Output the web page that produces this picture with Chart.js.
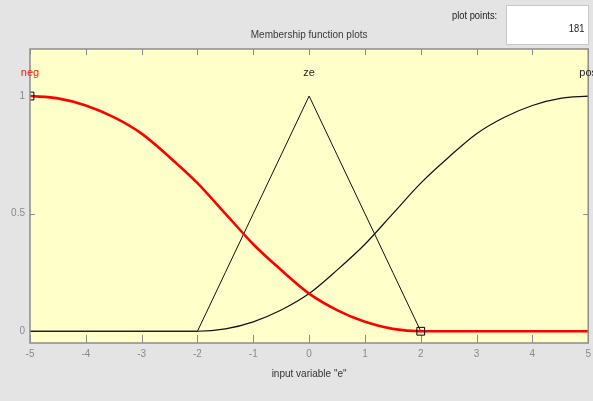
<!DOCTYPE html>
<html>
<head>
<meta charset="utf-8">
<script src="https://cdn.jsdelivr.net/npm/chart.js@4"></script>
<style>
  html, body { margin: 0; padding: 0; background: #e4e4e4; overflow: hidden; }
  #wrap { position: relative; width: 593px; height: 401px; overflow: hidden; }
  #mf { position: absolute; left: 0; top: 0; }
  .ui { position: absolute; font-family: "Liberation Sans", Arial, sans-serif; font-size: 11px; line-height: 12px; color: #222; }
  #ppLabel { right: 96px; top: 9px; transform: scaleX(0.85); transform-origin: right center; }
  #ppBox { left: 506px; top: 5px; width: 83px; height: 40px; background: #fff; border: 1px solid #c8c8c8; box-sizing: border-box; }
  #ppBox span { position: absolute; right: 4px; top: 16px; transform: scaleX(0.85); transform-origin: right center; }
</style>
</head>
<body>
<div id="wrap">
  <canvas id="mf" width="596" height="401"></canvas>
  <div class="ui" id="ppLabel">plot points:</div>
  <div class="ui" id="ppBox"><span>181</span></div>
</div>
<script>
const FONT = '"Liberation Sans", Arial, sans-serif';

// input variable "e", sampled every 0.5
const xs = [-5, -4.5, -4, -3.5, -3, -2.5, -2, -1.5, -1, -0.5, 0, 0.5, 1, 1.5, 2, 2.5, 3, 3.5, 4, 4.5, 5];
const negVals = [1, 0.99, 0.96, 0.91, 0.84, 0.74, 0.63, 0.5, 0.37, 0.26, 0.16, 0.09, 0.04, 0.01, 0, 0, 0, 0, 0, 0, 0];
const zeVals = [0, 0, 0, 0, 0, 0, 0, 0.25, 0.5, 0.75, 1, 0.75, 0.5, 0.25, 0, 0, 0, 0, 0, 0, 0];
const posVals = [0, 0, 0, 0, 0, 0, 0, 0.01, 0.04, 0.09, 0.16, 0.26, 0.37, 0.5, 0.63, 0.74, 0.84, 0.91, 0.96, 0.99, 1];

const mfNames = ["neg", "ze", "pos"];
const mfPeaks = [-5, 0, 5];
const selected = 0;

// drag handles of the selected curve
const handleX = [-5, 2];
const handleY = [1, 0];

const xTicks = [-5, -4, -3, -2, -1, 0, 1, 2, 3, 4, 5];
const yTicks = [0, 0.5, 1];

const toPoints = vals => xs.map((x, i) => ({ x: x, y: vals[i] }));

// yellow plot background, inward ticks, box frame
const axesBox = {
  id: "axesBox",
  beforeDatasetsDraw(chart) {
    const { ctx, chartArea: a } = chart;
    ctx.save();
    ctx.fillStyle = "#ffffca";
    ctx.fillRect(a.left, a.top, a.right - a.left, a.bottom - a.top);
    ctx.strokeStyle = "#8c8c8c";
    ctx.lineWidth = 1;
    ctx.beginPath();
    xTicks.forEach(v => {
      const px = Math.round(chart.scales.x.getPixelForValue(v)) + 0.5;
      ctx.moveTo(px, a.bottom); ctx.lineTo(px, a.bottom - 8);
      ctx.moveTo(px, a.top); ctx.lineTo(px, a.top + 6);
    });
    yTicks.forEach(v => {
      const py = Math.round(chart.scales.y.getPixelForValue(v)) + 0.5;
      ctx.moveTo(a.left, py); ctx.lineTo(a.left + 5, py);
      ctx.moveTo(a.right, py); ctx.lineTo(a.right - 5, py);
    });
    ctx.stroke();
    ctx.restore();
  },
  afterDatasetsDraw(chart) {
    const { ctx, chartArea: a } = chart;
    ctx.save();
    ctx.strokeStyle = "#8c8c8c";
    ctx.lineWidth = 1.5;
    ctx.strokeRect(a.left, a.top, a.right - a.left, a.bottom - a.top);
    // curve names above each peak
    ctx.font = "11px " + FONT;
    ctx.textAlign = "center";
    ctx.textBaseline = "middle";
    mfNames.forEach((name, i) => {
      ctx.fillStyle = i === selected ? "#ff1a1a" : "#222";
      ctx.fillText(name, chart.scales.x.getPixelForValue(mfPeaks[i]), chart.scales.y.getPixelForValue(1.1));
    });
    ctx.restore();
  }
};

new Chart(document.getElementById("mf"), {
  type: "line",
  data: {
    datasets: [
      {
        label: "handles",
        data: handleX.map((x, i) => ({ x: x, y: handleY[i] })),
        showLine: false,
        pointStyle: "rect",
        pointRadius: 5.5,
        pointBorderColor: "#000",
        pointBackgroundColor: "rgba(0,0,0,0)",
        pointBorderWidth: 1,
        clip: 0
      },
      {
        label: mfNames[0],
        data: toPoints(negVals),
        borderColor: "#ff0000",
        borderWidth: 2.6,
        pointRadius: 0,
        cubicInterpolationMode: "monotone"
      },
      {
        label: mfNames[1],
        data: toPoints(zeVals),
        borderColor: "#111",
        borderWidth: 1,
        pointRadius: 0,
        tension: 0
      },
      {
        label: mfNames[2],
        data: toPoints(posVals),
        borderColor: "#111",
        borderWidth: 1.2,
        pointRadius: 0,
        cubicInterpolationMode: "monotone"
      }
    ]
  },
  options: {
    responsive: false,
    animation: false,
    devicePixelRatio: 1,
    layout: { padding: { left: 0, right: 3, top: 0, bottom: 0 } },
    plugins: {
      legend: { display: false },
      tooltip: { enabled: false },
      title: {
        display: true,
        fullSize: false,
        text: "Membership function plots",
        color: "#3a3a3a",
        font: { family: FONT, size: 10, weight: "normal" },
        padding: { top: 29, bottom: 8 }
      }
    },
    scales: {
      x: {
        type: "linear",
        min: -5,
        max: 5,
        grid: { display: false, drawTicks: false },
        border: { display: false },
        afterBuildTicks: s => { s.ticks = xTicks.map(v => ({ value: v })); },
        afterFit: s => { s.height = 58; },
        ticks: {
          color: "#8a8a8a",
          padding: 5,
          maxRotation: 0,
          autoSkip: false,
          font: { family: FONT, size: 10 },
          callback: v => String(v)
        },
        title: {
          display: true,
          text: 'input variable "e"',
          color: "#333",
          font: { family: FONT, size: 10 },
          padding: { top: 0, bottom: 21 }
        }
      },
      y: {
        type: "linear",
        min: -0.05,
        max: 1.2,
        grid: { display: false, drawTicks: false },
        border: { display: false },
        afterBuildTicks: s => { s.ticks = yTicks.map(v => ({ value: v })); },
        afterFit: s => { s.width = 30; },
        ticks: {
          color: "#8a8a8a",
          padding: 5,
          font: { family: FONT, size: 10 },
          callback: v => String(v)
        }
      }
    }
  },
  plugins: [axesBox]
});
</script>
</body>
</html>
